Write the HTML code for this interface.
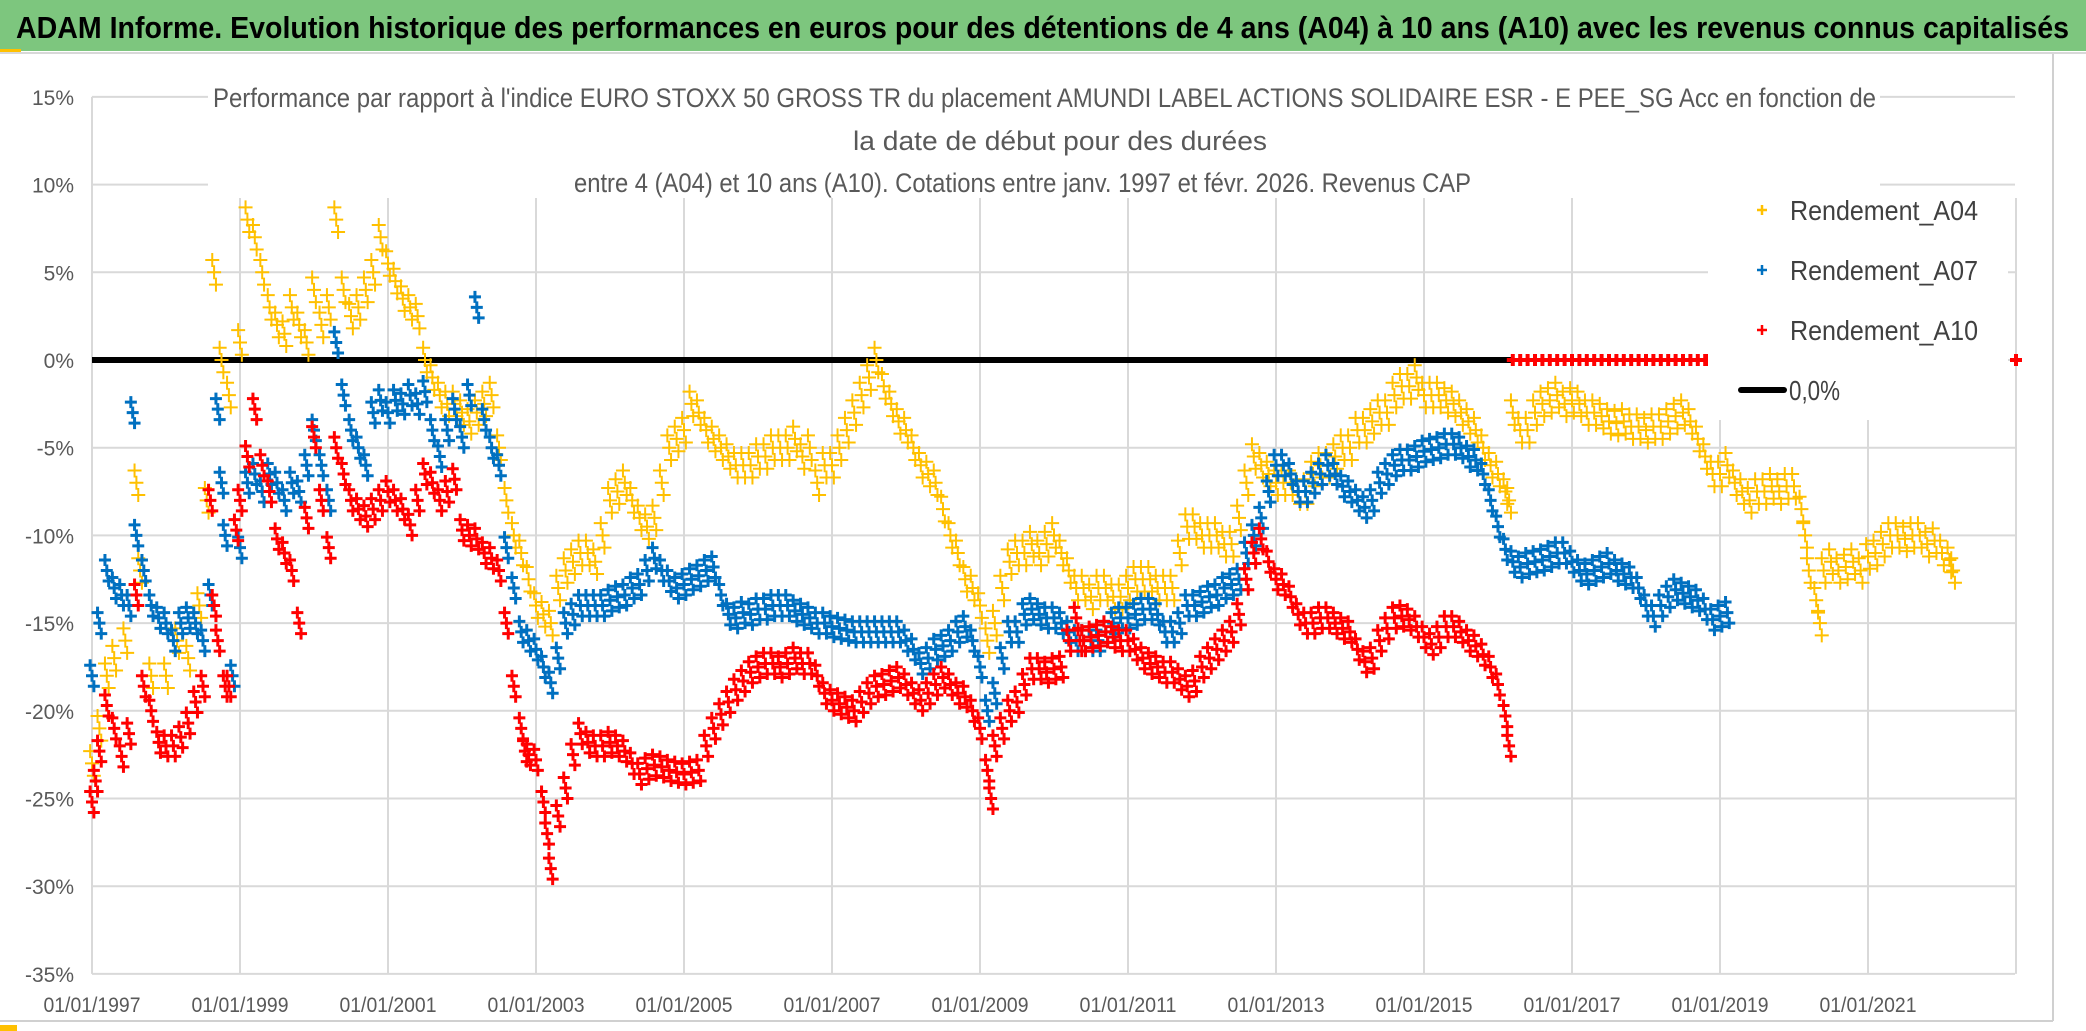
<!DOCTYPE html>
<html><head><meta charset="utf-8"><title>ADAM Informe</title>
<style>
html,body{margin:0;padding:0;background:#fff;}
svg{display:block;}
text{font-family:"Liberation Sans",sans-serif;}
</style></head>
<body>
<svg id="chart" width="2086" height="1031" viewBox="0 0 2086 1031" xmlns="http://www.w3.org/2000/svg">
  <rect x="0" y="0" width="2086" height="1031" fill="#ffffff"/>
  <rect x="0" y="0" width="2086" height="51" fill="#7dc67e"/>
  <rect x="0" y="49" width="21" height="4" fill="#ffc000"/>
  <line x1="0" y1="53" x2="2086" y2="53" stroke="#d8d8d8" stroke-width="2"/>
  <text x="16" y="38" font-size="31" font-weight="bold" fill="#000" textLength="2053" lengthAdjust="spacingAndGlyphs">ADAM Informe. Evolution historique des performances en euros pour des détentions de 4 ans (A04) à 10 ans (A10) avec les revenus connus capitalisés</text>
  <line x1="2053" y1="54" x2="2053" y2="1021" stroke="#d0d0d0" stroke-width="2"/>
  <line x1="0" y1="1021" x2="2053" y2="1021" stroke="#d0d0d0" stroke-width="2"/>
  <rect x="0" y="1025" width="17" height="6" fill="#ffc000"/>
  <g id="grid"></g>
  <g id="yticks"></g>
  <g id="xticks"></g>
  <rect x="208" y="60" width="1672" height="138" fill="#fff"/>
  <g fill="#595959" font-size="27">
    <text x="213" y="107" textLength="1663" lengthAdjust="spacingAndGlyphs">Performance par rapport à l'indice EURO STOXX 50 GROSS TR  du placement AMUNDI LABEL ACTIONS SOLIDAIRE ESR - E PEE_SG Acc en fonction de</text>
    <text x="853" y="150" textLength="414" lengthAdjust="spacingAndGlyphs">la date de début pour des durées</text>
    <text x="574" y="192" textLength="897" lengthAdjust="spacingAndGlyphs">entre 4 (A04) et 10 ans (A10). Cotations entre janv. 1997 et févr. 2026. Revenus CAP</text>
  </g>
  <g id="zeroline"></g>
  <g id="series"></g>
  <g id="legend"></g>
</svg>
<script>
// ---- data ----
const yTickValues = [15, 10, 5, 0, -5, -10, -15, -20, -25, -30, -35];
const yTickLabels = ["15%", "10%", "5%", "0%", "-5%", "-10%", "-15%", "-20%", "-25%", "-30%", "-35%"];
const xTickYears = [1997, 1999, 2001, 2003, 2005, 2007, 2009, 2011, 2013, 2015, 2017, 2019, 2021];
const xTickLabels = ["01/01/1997","01/01/1999","01/01/2001","01/01/2003","01/01/2005","01/01/2007","01/01/2009","01/01/2011","01/01/2013","01/01/2015","01/01/2017","01/01/2019","01/01/2021"];
const seriesNames = ["Rendement_A04", "Rendement_A07", "Rendement_A10"];

const a04Dates = [1997.0,1997.1,1997.2,1997.3,1997.45,1997.6,1997.65,1997.8,1998.0,1998.15,1998.3,1998.45,1998.55,1998.65,1998.75,1998.85,1999.0,1999.1,1999.2,1999.3,1999.4,1999.5,1999.6,1999.7,1999.8,1999.9,2000.0,2000.1,2000.2,2000.3,2000.4,2000.5,2000.6,2000.7,2000.8,2000.9,2001.0,2001.1,2001.2,2001.3,2001.4,2001.5,2001.6,2001.7,2001.8,2001.9,2002.0,2002.1,2002.2,2002.3,2002.4,2002.5,2002.6,2002.7,2002.8,2002.9,2003.0,2003.1,2003.2,2003.3,2003.4,2003.5,2003.6,2003.7,2003.8,2003.9,2004.0,2004.1,2004.2,2004.3,2004.4,2004.5,2004.6,2004.7,2004.8,2004.9,2005.0,2005.1,2005.2,2005.3,2005.4,2005.5,2005.6,2005.7,2005.8,2005.9,2006.0,2006.1,2006.2,2006.3,2006.4,2006.5,2006.6,2006.7,2006.8,2006.9,2007.0,2007.1,2007.2,2007.3,2007.4,2007.5,2007.6,2007.7,2007.8,2007.9,2008.0,2008.1,2008.2,2008.3,2008.4,2008.5,2008.6,2008.7,2008.8,2008.9,2009.0,2009.1,2009.2,2009.3,2009.4,2009.5,2009.6,2009.7,2009.8,2009.9,2010.0,2010.1,2010.2,2010.3,2010.4,2010.5,2010.6,2010.7,2010.8,2010.9,2011.0,2011.1,2011.2,2011.3,2011.4,2011.5,2011.6,2011.7,2011.8,2011.9,2012.0,2012.1,2012.2,2012.3,2012.4,2012.5,2012.6,2012.7,2012.8,2012.9,2013.0,2013.1,2013.2,2013.3,2013.4,2013.5,2013.6,2013.7,2013.8,2013.9,2014.0,2014.1,2014.2,2014.3,2014.4,2014.5,2014.6,2014.7,2014.8,2014.9,2015.0,2015.1,2015.2,2015.3,2015.4,2015.5,2015.6,2015.7,2015.8,2015.9,2016.0,2016.1,2016.15,2016.2,2016.3,2016.4,2016.5,2016.6,2016.7,2016.8,2016.9,2017.0,2017.1,2017.2,2017.3,2017.4,2017.5,2017.6,2017.7,2017.8,2017.9,2018.0,2018.1,2018.2,2018.3,2018.4,2018.5,2018.6,2018.7,2018.8,2018.9,2019.0,2019.1,2019.2,2019.3,2019.4,2019.5,2019.6,2019.7,2019.8,2019.9,2020.0,2020.1,2020.15,2020.2,2020.3,2020.35,2020.4,2020.5,2020.6,2020.7,2020.8,2020.9,2021.0,2021.1,2021.2,2021.3,2021.4,2021.5,2021.6,2021.7,2021.8,2021.9,2022.0,2022.1,2022.15];
const a04Values = [-23,-21,-18,-17,-16,-7,-12,-18,-18,-16,-17,-14,-8,5,0,-2,1,8,7,5,3,2,1.5,3,2,1,4,2,3,8,4,2.5,3,4,5,7,5.5,4.5,3.5,3,2.5,0,-1,-2,-2.5,-2.5,-3,-3.5,-3,-2.5,-2,-5,-8,-10,-11,-12.5,-14,-14.5,-15,-13,-12,-11.5,-11,-11,-11.5,-10,-8,-7.5,-7,-8,-9,-9.5,-9,-7,-5,-4.5,-4,-2.5,-3,-4,-4.5,-5,-5.5,-6,-6,-6,-5.5,-5.5,-5,-5,-5,-4.5,-5.5,-5,-7,-6,-6,-5,-4,-3,-2,-1,0,-1.5,-2.5,-3.5,-4,-5,-6,-6.5,-7,-8.5,-10,-11,-12.5,-13,-14,-16,-15,-13,-11.5,-11,-11,-10.5,-11,-10.5,-10,-11,-12,-13,-13,-13.5,-13,-13,-13.5,-13.5,-13,-12.5,-12.5,-12.5,-13,-13,-13,-11,-9.5,-9.5,-10,-10,-10,-10.5,-10.5,-9,-7,-5.5,-6,-6.5,-7,-7,-7,-7.5,-7.5,-6.5,-6,-6,-5.5,-5,-5,-4,-4,-3.5,-3,-3,-2,-1.5,-1.5,-1,-2,-2,-2,-2.3,-2.5,-3,-3.5,-4,-5,-6,-6.5,-7.5,-8,-3,-4,-4,-3,-2.5,-2.3,-2,-2.5,-2.3,-2.5,-3,-3,-3.2,-3.5,-3.6,-3.5,-3.8,-3.8,-4,-3.8,-3.8,-3.5,-3.2,-3,-3.5,-4.5,-5.5,-6.5,-6.5,-6,-7,-7.5,-8,-7.5,-7.5,-7.2,-7.5,-7.2,-7.2,-8.5,-10,-12,-13.7,-15,-12,-11.5,-12,-11.8,-11.5,-12,-11.2,-11,-10.5,-10,-10,-10.2,-10,-10,-10.5,-10.3,-11,-11.4,-12];

const a07Dates = [1997.0,1997.1,1997.2,1997.3,1997.4,1997.5,1997.55,1997.6,1997.7,1997.8,1997.9,1998.0,1998.1,1998.2,1998.3,1998.4,1998.5,1998.6,1998.7,1998.75,1998.8,1998.9,1999.0,1999.1,1999.2,1999.3,1999.4,1999.5,1999.6,1999.7,1999.8,1999.9,2000.0,2000.1,2000.2,2000.3,2000.4,2000.5,2000.6,2000.7,2000.8,2000.9,2001.0,2001.1,2001.2,2001.3,2001.4,2001.5,2001.6,2001.7,2001.8,2001.9,2002.0,2002.1,2002.2,2002.3,2002.4,2002.5,2002.6,2002.7,2002.8,2002.9,2003.0,2003.1,2003.2,2003.3,2003.4,2003.5,2003.6,2003.7,2003.8,2003.9,2004.0,2004.1,2004.2,2004.3,2004.4,2004.5,2004.6,2004.7,2004.8,2004.9,2005.0,2005.1,2005.2,2005.3,2005.4,2005.5,2005.6,2005.7,2005.8,2005.9,2006.0,2006.1,2006.2,2006.3,2006.4,2006.5,2006.6,2006.7,2006.8,2006.9,2007.0,2007.1,2007.2,2007.3,2007.4,2007.5,2007.6,2007.7,2007.8,2007.9,2008.0,2008.1,2008.2,2008.3,2008.4,2008.5,2008.6,2008.7,2008.8,2008.9,2009.0,2009.1,2009.2,2009.3,2009.4,2009.5,2009.6,2009.7,2009.8,2009.9,2010.0,2010.1,2010.2,2010.3,2010.4,2010.5,2010.6,2010.7,2010.8,2010.9,2011.0,2011.1,2011.2,2011.3,2011.4,2011.5,2011.6,2011.7,2011.8,2011.9,2012.0,2012.1,2012.2,2012.3,2012.4,2012.5,2012.6,2012.7,2012.8,2012.9,2013.0,2013.1,2013.2,2013.3,2013.4,2013.5,2013.6,2013.7,2013.8,2013.9,2014.0,2014.1,2014.2,2014.3,2014.4,2014.5,2014.6,2014.7,2014.8,2014.9,2015.0,2015.1,2015.2,2015.3,2015.4,2015.5,2015.6,2015.7,2015.8,2015.9,2016.0,2016.1,2016.2,2016.3,2016.4,2016.5,2016.6,2016.7,2016.8,2016.9,2017.0,2017.1,2017.2,2017.3,2017.4,2017.5,2017.6,2017.7,2017.8,2017.9,2018.0,2018.1,2018.2,2018.3,2018.4,2018.5,2018.6,2018.7,2018.8,2018.9,2019.0,2019.1];
const a07Values = [-18,-15,-12,-13,-13.4,-14,-3,-10,-12,-14,-14.7,-15,-16,-15,-14.7,-15,-16,-13.4,-2.8,-7,-10,-18,-10.7,-7,-6.5,-7.5,-6.5,-7,-8,-7,-7.5,-6,-4,-6,-8,1,-2,-4,-5,-6,-3,-2.3,-3,-2.3,-2.5,-2,-2.5,-1.8,-4,-5.5,-4,-2.8,-4.4,-2,3,-3.4,-5,-6,-10.7,-13,-15.5,-16,-16.5,-17.5,-18.4,-17,-15,-14.5,-14,-14,-14,-14,-13.7,-13.5,-13.4,-13,-12.8,-12,-11.3,-12,-12.6,-13,-12.8,-12.5,-12.3,-12,-11.8,-13.4,-14.5,-14.7,-14.4,-14.5,-14.2,-14.2,-14,-14,-14,-14.3,-14.5,-14.7,-15,-15,-15.2,-15.3,-15.4,-15.5,-15.5,-15.5,-15.5,-15.5,-15.5,-15.5,-16,-16.5,-17.3,-17,-16.5,-16.3,-16,-15.5,-15.2,-16,-17.5,-20,-19,-17,-15.5,-15.5,-14.5,-14.2,-14.5,-14.7,-14.7,-15,-15.5,-16,-16,-16,-16,-15.5,-15,-14.7,-14.7,-14.5,-14.2,-14.2,-14.5,-15.5,-15.5,-15,-14,-14,-13.8,-13.5,-13.4,-13,-12.8,-12.5,-11,-10,-9,-7.5,-6,-6,-6.5,-7.5,-7.5,-7,-6.5,-6,-6.5,-7.2,-7.5,-8,-8.4,-8,-7,-6.5,-6,-5.7,-5.7,-5.5,-5.2,-5.1,-5,-4.8,-4.8,-5,-5.5,-5.7,-6.5,-8,-9.5,-10.8,-11.5,-11.8,-11.6,-11.5,-11.4,-11.2,-11,-11,-11.5,-12,-12.2,-12,-11.8,-11.6,-12,-12.2,-12.4,-13,-14,-14.6,-14,-13.5,-13.1,-13.3,-13.5,-13.7,-14.2,-14.8,-14.6,-14.4];

const a10Dates = [1997.0,1997.05,1997.1,1997.2,1997.3,1997.4,1997.5,1997.6,1997.7,1997.8,1997.9,1998.0,1998.1,1998.2,1998.3,1998.4,1998.5,1998.6,1998.65,1998.7,1998.8,1998.85,1998.95,1999.0,1999.1,1999.2,1999.3,1999.4,1999.5,1999.6,1999.7,1999.8,1999.9,2000.0,2000.1,2000.2,2000.3,2000.4,2000.5,2000.6,2000.7,2000.8,2000.9,2001.0,2001.1,2001.2,2001.3,2001.4,2001.5,2001.6,2001.7,2001.8,2001.9,2002.0,2002.1,2002.2,2002.3,2002.4,2002.5,2002.6,2002.7,2002.8,2002.85,2002.9,2003.0,2003.1,2003.15,2003.2,2003.3,2003.4,2003.5,2003.6,2003.7,2003.8,2003.9,2004.0,2004.1,2004.2,2004.3,2004.4,2004.5,2004.6,2004.7,2004.8,2004.9,2005.0,2005.1,2005.2,2005.3,2005.4,2005.5,2005.6,2005.7,2005.8,2005.9,2006.0,2006.1,2006.2,2006.3,2006.4,2006.5,2006.6,2006.7,2006.8,2006.9,2007.0,2007.1,2007.2,2007.3,2007.4,2007.5,2007.6,2007.7,2007.8,2007.9,2008.0,2008.1,2008.2,2008.3,2008.4,2008.5,2008.6,2008.7,2008.8,2008.9,2009.0,2009.1,2009.15,2009.2,2009.3,2009.4,2009.5,2009.6,2009.7,2009.8,2009.9,2010.0,2010.1,2010.2,2010.3,2010.35,2010.4,2010.5,2010.6,2010.7,2010.8,2010.9,2011.0,2011.1,2011.2,2011.3,2011.4,2011.5,2011.6,2011.7,2011.8,2011.9,2012.0,2012.1,2012.2,2012.3,2012.4,2012.5,2012.6,2012.7,2012.8,2012.9,2013.0,2013.1,2013.2,2013.3,2013.4,2013.5,2013.6,2013.7,2013.8,2013.9,2014.0,2014.1,2014.2,2014.3,2014.4,2014.5,2014.6,2014.7,2014.8,2014.9,2015.0,2015.1,2015.2,2015.3,2015.4,2015.5,2015.6,2015.7,2015.8,2015.9,2016.0,2016.1,2016.15];
const a10Values = [-25.2,-24,-22.3,-19.7,-21,-22.6,-21.3,-13.4,-18.6,-20,-21.8,-22,-22,-21.5,-20.7,-19.5,-18.6,-8,-14,-16,-18.6,-18.6,-9.7,-8,-5.5,-2.8,-6,-7.5,-10.2,-11,-12,-15,-9,-4.4,-8,-10.7,-5,-6.5,-8,-8.5,-8.9,-8.5,-8,-7.5,-8,-8.5,-9.4,-8,-6.5,-7,-8,-7.5,-6.8,-9.7,-10,-10.2,-11,-11.3,-12,-15,-18.6,-21,-22.3,-22.5,-22.8,-25.2,-27,-29,-26,-24.4,-22.5,-21.3,-21.8,-22,-22,-21.8,-22,-22.3,-23,-23.6,-23.3,-23.1,-23.2,-23.4,-23.5,-23.6,-23.5,-23.4,-22,-21,-20.2,-19.5,-18.8,-18.3,-17.8,-17.5,-17.3,-17.3,-17.5,-17.3,-17,-17.3,-17.3,-18,-19,-19.4,-19.6,-19.8,-20,-19.5,-19,-18.6,-18.5,-18.3,-18.1,-18.5,-19,-19.4,-19,-18.5,-18.1,-18.5,-19,-19.2,-20,-21,-23.4,-25,-22,-21,-20,-19.5,-18.5,-17.6,-17.6,-17.8,-17.6,-17.5,-16,-14.7,-16,-16,-15.8,-15.7,-15.5,-15.8,-16,-16,-16.5,-17,-17.3,-17.5,-17.8,-17.8,-18.2,-18.6,-18.3,-17.5,-17,-16.5,-16,-15.5,-14.5,-12.5,-11,-10.2,-11.5,-12.5,-12.8,-13.5,-14.5,-15,-15,-14.7,-14.7,-15,-15.3,-15.5,-16.5,-17.2,-17,-16,-15.3,-14.7,-14.6,-14.8,-15.2,-15.8,-16.2,-15.8,-15.2,-15.2,-15.5,-16,-16.3,-16.8,-17.5,-18.5,-20.3,-22];
// A10 flat zero values (window not yet available)
const a10ZeroDates = [2016.2,2016.3,2016.4,2016.5,2016.6,2016.7,2016.8,2016.9,2017.0,2017.1,2017.2,2017.3,2017.4,2017.5,2017.6,2017.7,2017.8,2017.9,2018.0,2018.1,2018.2,2018.3,2018.4,2018.5,2018.6,2018.7,2018.8,2018.85,2023.0];
const a10ZeroValues = [0,0,0,0,0,0,0,0,0,0,0,0,0,0,0,0,0,0,0,0,0,0,0,0,0,0,0,0,0];

const zeroLineStart = 1997.0;
const zeroLineEnd = 2016.2;
// vertical dispersion (percentage points) of each series' daily cloud around its level
const a04Spread = 0.7;
const a07Spread = 0.6;
const a10Spread = 0.6;

// ---- axes ----
const X0 = 92, PX_PER_YEAR = 74, Y0 = 360, PX_PER_PCT = 17.54;
function xScale(year){ return X0 + (year - 1997) * PX_PER_YEAR; }
function yScale(pct){ return Y0 - pct * PX_PER_PCT; }
const PLOT_RIGHT = 2015;
const NS = "http://www.w3.org/2000/svg";
function mk(tag, attrs, parent){
  const el = document.createElementNS(NS, tag);
  for (const k in attrs) el.setAttribute(k, attrs[k]);
  parent.appendChild(el);
  return el;
}

// grid
const grid = document.getElementById('grid');
yTickValues.forEach((v, i) => {
  const y = yScale(v);
  const ln = mk('line', {x1: X0, y1: y, x2: PLOT_RIGHT, y2: y, stroke: '#d9d9d9', 'stroke-width': 2}, grid);
  
  
});
for (let yr = 1999; yr <= 2023; yr += 2) {
  const x = xScale(yr);
  const ln = mk('line', {x1: x, y1: 198, x2: x, y2: yScale(-35), stroke: '#d9d9d9', 'stroke-width': 2}, grid);
  
  
}
const axisLine = mk('line', {x1: X0, y1: yScale(15), x2: X0, y2: yScale(-35), stroke: '#d9d9d9', 'stroke-width': 2}, grid);



// y ticks
const yt = document.getElementById('yticks');
yTickValues.forEach((v, i) => {
  const t = mk('text', {x: 74, y: yScale(v) + 8, 'text-anchor': 'end', 'font-size': 21, fill: '#595959'}, yt);
  t.textContent = yTickLabels[i];
  
  
});
// x ticks
const xt = document.getElementById('xticks');
xTickYears.forEach((yr, i) => {
  const t = mk('text', {x: xScale(yr), y: 1012, 'text-anchor': 'middle', 'font-size': 21, fill: '#595959', textLength: 97, lengthAdjust: 'spacingAndGlyphs'}, xt);
  t.textContent = xTickLabels[i];
  
  
});

// zero line
const zl = mk('line', {x1: xScale(zeroLineStart), y1: yScale(0), x2: xScale(zeroLineEnd), y2: yScale(0), stroke: '#000', 'stroke-width': 6}, document.getElementById('zeroline'));



// series
const seriesG = document.getElementById('series');
function plus(x, y, s){ return `M${x-s},${y}H${x+s}M${x},${y-s}V${y+s}`; }
function drawSeries(dates, values, spread, color, size, width, name){
  const g = mk('g', {}, seriesG);
  
  
  let d = '';
  for (let i = 0; i < dates.length; i++) {
    const x = xScale(dates[i]);
    d += plus(x, yScale(values[i]), size);
    if (spread > 0) {
      d += plus(x - PX_PER_YEAR * 0.025, yScale(values[i] + spread), size);
      d += plus(x + PX_PER_YEAR * 0.025, yScale(values[i] - spread), size);
    }
  }
  const p = mk('path', {d: d, stroke: color, 'stroke-width': width, fill: 'none'}, g);
  
  
}
drawSeries(a04Dates, a04Values, a04Spread, '#ffc000', 7, 2, 'series-a04');
drawSeries(a07Dates, a07Values, a07Spread, '#0070c0', 6, 3, 'series-a07');
drawSeries(a10Dates, a10Values, a10Spread, '#ff0000', 6, 3, 'series-a10');
drawSeries(a10ZeroDates, a10ZeroValues, 0, '#ff0000', 6, 4, 'series-a10-zero');

// legend
const lg = document.getElementById('legend');


const lgBg = mk('rect', {x: 1708, y: 186, width: 300, height: 234, fill: '#fff'}, lg);


const legendColors = ['#ffc000', '#0070c0', '#ff0000'];
seriesNames.forEach((nm, i) => {
  const y = 210 + i * 60;
  const m = mk('path', {d: plus(1762, y, 5), stroke: legendColors[i], 'stroke-width': 2.5, fill: 'none'}, lg);
  
  
  const t = mk('text', {x: 1790, y: y + 10, 'font-size': 28, fill: '#404040', textLength: 188, lengthAdjust: 'spacingAndGlyphs'}, lg);
  t.textContent = nm;
  
  
});
const ll = mk('line', {x1: 1741, y1: 390, x2: 1784, y2: 390, stroke: '#000', 'stroke-width': 6, 'stroke-linecap': 'round'}, lg);


const lt = mk('text', {x: 1789, y: 400, 'font-size': 28, fill: '#404040', textLength: 51, lengthAdjust: 'spacingAndGlyphs'}, lg);
lt.textContent = '0,0%';


</script>
</body></html>
